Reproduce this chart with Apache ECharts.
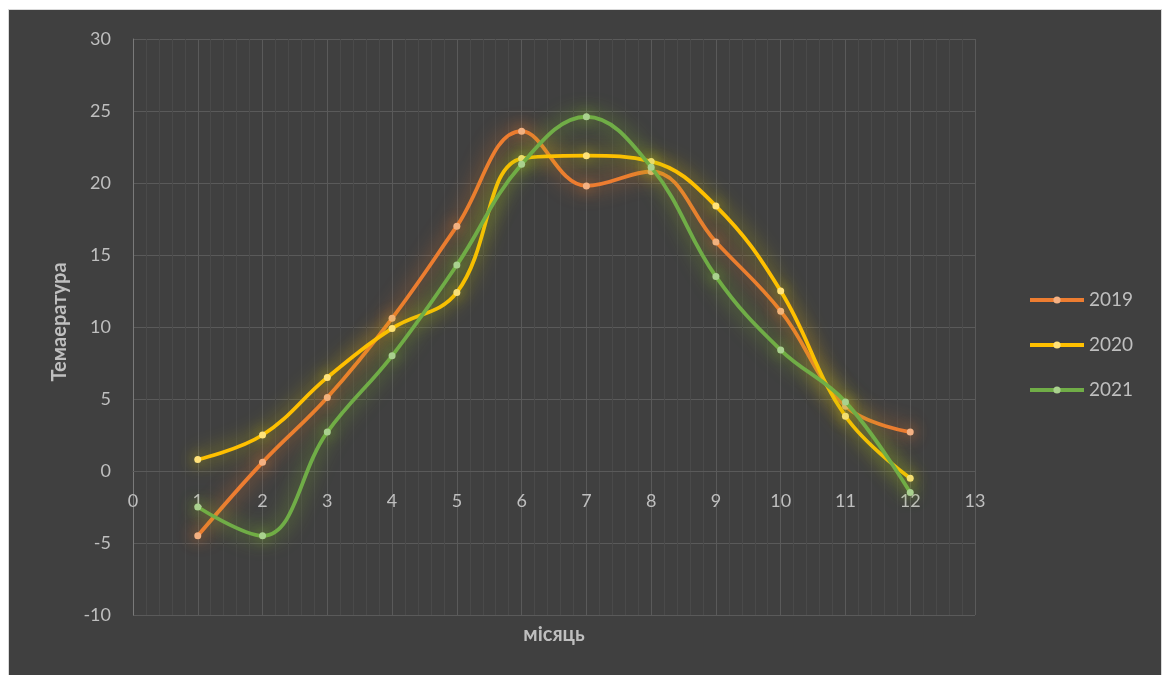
<!DOCTYPE html>
<html><head><meta charset="utf-8">
<script src="https://cdn.jsdelivr.net/npm/echarts@6/dist/echarts.min.js"></script>
<style>
html,body{margin:0;padding:0;background:#fff;width:1165px;height:675px;overflow:hidden;}
#frame{position:absolute;left:8px;top:9px;width:1154px;height:670px;background:#d9d9d9;}
#c{position:absolute;left:9px;top:10px;width:1152px;height:668px;}
</style></head>
<body><div id="frame"></div><div id="c"></div>
<script>
const months = [1,2,3,4,5,6,7,8,9,10,11,12];
const t2019 = [-4.5, 0.6, 5.1, 10.6, 17.0, 23.6, 19.8, 20.8, 15.9, 11.1, 4.5, 2.7];
const t2020 = [0.8, 2.5, 6.5, 9.9, 12.4, 21.7, 21.9, 21.5, 18.4, 12.5, 3.8, -0.5];
const t2021 = [-2.5, -4.5, 2.7, 8.0, 14.3, 21.3, 24.6, 21.1, 13.5, 8.4, 4.8, -1.5];
const seriesNames = ['2019','2020','2021'];
const yTitle = 'Темаература';
const xTitle = 'місяць';

const lineColors = ['#ED7D31','#FFC000','#70AD47'];
const markColors = ['#F4B183','#FFE27A','#A9D18E'];
const glowColors = ['rgba(237,125,49,0.9)','rgba(215,205,0,0.85)','rgba(140,200,40,0.85)'];
const txt = '#bfbfbf';
const font = 'Lato';

function mk(i, vals){
  return {
    name: seriesNames[i], type:'line', smooth:0.4,
    data: months.map((m,k)=>[m, vals[k]]),
    symbol:'circle', symbolSize:7,
    lineStyle:{color:lineColors[i], width:3.8, shadowBlur:20, shadowColor:glowColors[i]},
    itemStyle:{color:markColors[i], borderWidth:0, shadowBlur:14, shadowColor:glowColors[i]},
    z: 3+i
  };
}

const chart = echarts.init(document.getElementById('c'), null, {renderer:'canvas'});
chart.setOption({
  backgroundColor:'#404040',
  animation:false,
  textStyle:{fontFamily:font},
  grid:{left:124, top:29, width:842, height:576, containLabel:false},
  xAxis:{
    type:'value', min:0, max:13, interval:1, offset:-144,
    axisLine:{show:true, onZero:false, lineStyle:{color:'#5a5a5a', width:1}},
    axisTick:{show:false},
    minorTick:{show:false, splitNumber:5},
    minorSplitLine:{show:true, lineStyle:{color:'#4a4a4a', width:1}},
    splitLine:{show:true, lineStyle:{color:'#5a5a5a', width:1}},
    axisLabel:{color:txt, fontSize:18, fontFamily:font, margin:21, showMinLabel:true, showMaxLabel:true}
  },
  yAxis:{
    type:'value', min:-10, max:30, interval:5,
    axisLine:{show:true, lineStyle:{color:'#7a7a7a', width:1}},
    axisTick:{show:false},
    splitLine:{show:true, lineStyle:{color:'#5a5a5a', width:1}},
    axisLabel:{color:txt, fontSize:18, fontFamily:font, margin:22}
  },
  legend:{
    orient:'vertical', left:1014, top:275,
    itemWidth:54, itemHeight:9, itemGap:25,
    lineStyle:{width:4},
    textStyle:{color:txt, fontSize:19, fontFamily:font, lineHeight:20},
    data:seriesNames
  },
  graphic:[
    {type:'text', x:51, y:312, rotation:Math.PI/2,
     style:{text:yTitle, fill:txt, font:'bold 20px Lato', textAlign:'center', textVerticalAlign:'middle'}},
    {type:'text', x:545, y:625,
     style:{text:xTitle, fill:txt, font:'bold 20px Lato', textAlign:'center', textVerticalAlign:'middle'}}
  ],
  series:[mk(0,t2019), mk(1,t2020), mk(2,t2021)]
});
</script></body></html>
